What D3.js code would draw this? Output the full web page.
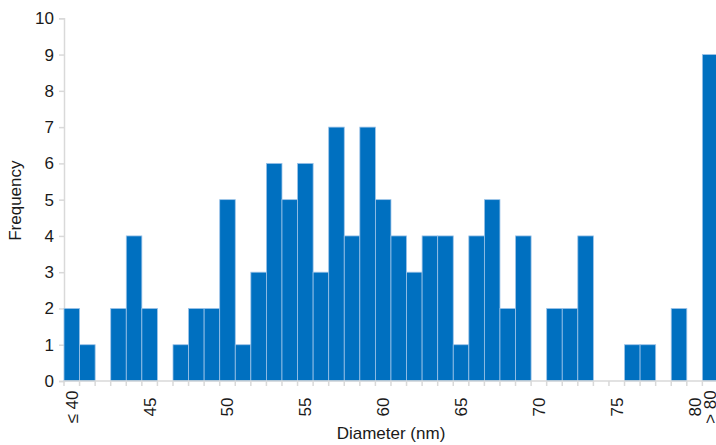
<!DOCTYPE html>
<html>
<head>
<meta charset="utf-8">
<script src="https://cdn.jsdelivr.net/npm/d3@7"></script>
<style>
  body { margin: 0; background: #fff; }
  text { font-family: "Liberation Sans", Arial, sans-serif; fill: #1a1a1a; }
</style>
</head>
<body>
<div id="chart"></div>
<script>
// bins: <= 40, 41 ... 80, > 80
var bins = ["≤ 40"];
for (var b = 41; b <= 80; b++) bins.push(String(b));
bins.push("> 80");

var counts = [2, 1, 0, 2, 4, 2, 0, 1, 2, 2,
              5, 1, 3, 6, 5, 6, 3, 7, 4, 7,
              5, 4, 3, 4, 4, 1, 4, 5, 2, 4,
              0, 2, 2, 4, 0, 0, 1, 1, 0, 2,
              0, 9];

var shownLabels = ["≤ 40", "45", "50", "55", "60", "65", "70", "75", "80", "> 80"];
var yTicks = [0, 1, 2, 3, 4, 5, 6, 7, 8, 9, 10];

function drawChart() {
  var width = 716, height = 445;
  var plotLeft = 64, plotTop = 18.3, plotBottom = 381;
  var binW = 15.57;

  var svg = d3.select("#chart").append("svg")
    .attr("width", width)
    .attr("height", height);

  var x = d3.scaleBand()
    .domain(bins)
    .range([plotLeft, plotLeft + bins.length * binW])
    .padding(0);

  var y = d3.scaleLinear()
    .domain([0, 10])
    .range([plotBottom, plotTop]);

  // y axis
  var yAxisGroup = svg.append("g")
    .attr("transform", "translate(" + plotLeft + ",0)")
    .call(d3.axisLeft(y).tickValues(yTicks).tickSize(5).tickPadding(5));
  yAxisGroup.select(".domain").attr("stroke", "#d9d9d9").attr("stroke-width", 1.5);
  yAxisGroup.selectAll(".tick line").attr("stroke", "#d9d9d9").attr("stroke-width", 1.5);
  yAxisGroup.selectAll(".tick text")
    .style("font-size", "17px")
    .style("font-family", "Liberation Sans, Arial, sans-serif")
    .attr("fill", "#1a1a1a");

  // bars
  svg.selectAll(".bar")
    .data(counts)
    .enter()
    .append("rect")
    .attr("class", "bar")
    .attr("x", function(d, i) { return x(bins[i]); })
    .attr("y", function(d) { return y(d); })
    .attr("width", x.bandwidth())
    .attr("height", function(d) { return y(0) - y(d); })
    .attr("fill", "#0070c0")
    .attr("stroke", "#9cc3e8")
    .attr("stroke-width", 0.8)
    .style("display", function(d) { return d > 0 ? null : "none"; });

  // x axis line and boundary ticks
  var xAxisGroup = svg.append("g");
  xAxisGroup.append("line")
    .attr("x1", plotLeft)
    .attr("x2", width)
    .attr("y1", y(0))
    .attr("y2", y(0))
    .attr("stroke", "#d9d9d9")
    .attr("stroke-width", 1.5);

  var edges = bins.map(function(d) { return x(d); }).concat([x.range()[1]]);
  xAxisGroup.selectAll(".edge")
    .data(edges)
    .enter()
    .append("line")
    .attr("class", "edge")
    .attr("x1", function(d) { return d; })
    .attr("x2", function(d) { return d; })
    .attr("y1", y(0))
    .attr("y2", y(0) + 5)
    .attr("stroke", "#d9d9d9")
    .attr("stroke-width", 1.5);

  // x tick labels, rotated
  xAxisGroup.selectAll(".xlabel")
    .data(shownLabels)
    .enter()
    .append("text")
    .attr("class", "xlabel")
    .attr("transform", function(d) {
      return "translate(" + (x(d) + x.bandwidth() / 2 + 6) + ",407) rotate(-90)";
    })
    .attr("text-anchor", "middle")
    .style("font-size", "17px")
    .text(function(d) { return d; });

  // axis titles
  svg.append("text")
    .attr("x", 391)
    .attr("y", 439)
    .attr("text-anchor", "middle")
    .style("font-size", "17px")
    .text("Diameter (nm)");

  svg.append("text")
    .attr("transform", "translate(21," + (y(5) + 1) + ") rotate(-90)")
    .attr("text-anchor", "middle")
    .style("font-size", "17px")
    .text("Frequency");
}

drawChart();
</script>
</body>
</html>
